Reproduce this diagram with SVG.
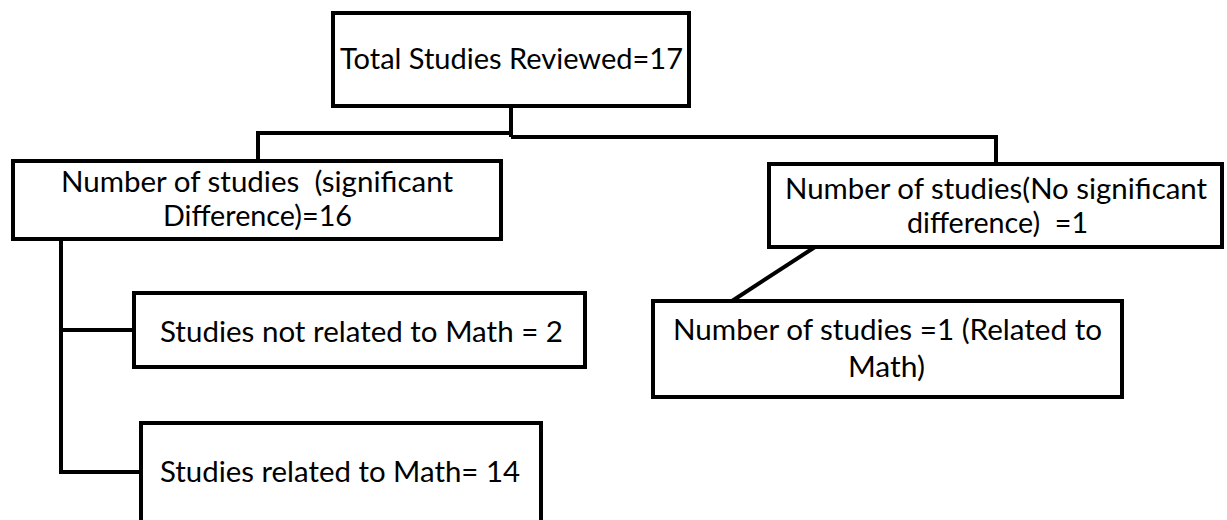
<svg xmlns="http://www.w3.org/2000/svg" width="1227" height="520" viewBox="0 0 1227 520">
<style>
.box{fill:#fff;stroke:#000;stroke-width:4}
.con{fill:none;stroke:#000;stroke-width:4}
text{font-family:Lato,"Open Sans","Liberation Sans",sans-serif;font-size:28px;fill:#000;text-anchor:middle;white-space:pre}
</style>
<rect width="1227" height="520" fill="#fff"/>
<g id="connectors">
<path class="con" d="M511,107 V137"/>
<path class="con" d="M258,161 V133 H511"/>
<path class="con" d="M511,137 H996 V164"/>
<path class="con" d="M815,247 L732,301"/>
<path class="con" d="M61,239 V472 H141"/>
<path class="con" d="M61,330 H134"/>
</g>
<g id="n-total">
<rect class="box" x="333" y="13" width="356" height="93"/>
<text x="511.5" y="69" textLength="343" lengthAdjust="spacingAndGlyphs">Total Studies Reviewed=17</text>
</g>
<g id="n-significant">
<rect class="box" x="13" y="161" width="488" height="78"/>
<text x="257" y="192" textLength="392" lengthAdjust="spacingAndGlyphs">Number of studies  (significant</text>
<text x="257.5" y="226" textLength="189" lengthAdjust="spacingAndGlyphs">Difference)=16</text>
</g>
<g id="n-nosignificant">
<rect class="box" x="769" y="164" width="453" height="83"/>
<text x="996" y="199" textLength="422" lengthAdjust="spacingAndGlyphs">Number of studies(No significant</text>
<text x="997.5" y="233" textLength="181" lengthAdjust="spacingAndGlyphs">difference)  =1</text>
</g>
<g id="n-notmath">
<rect class="box" x="134" y="293" width="451" height="74"/>
<text x="361.5" y="342" textLength="403" lengthAdjust="spacingAndGlyphs">Studies not related to Math = 2</text>
</g>
<g id="n-math14">
<rect class="box" x="141" y="423" width="400" height="110"/>
<text x="340" y="482" textLength="360" lengthAdjust="spacingAndGlyphs">Studies related to Math= 14</text>
</g>
<g id="n-math1">
<rect class="box" x="653" y="301" width="469" height="96"/>
<text x="887.5" y="340" textLength="429" lengthAdjust="spacingAndGlyphs">Number of studies =1 (Related to</text>
<text x="886.5" y="377" textLength="77" lengthAdjust="spacingAndGlyphs">Math)</text>
</g>
</svg>
